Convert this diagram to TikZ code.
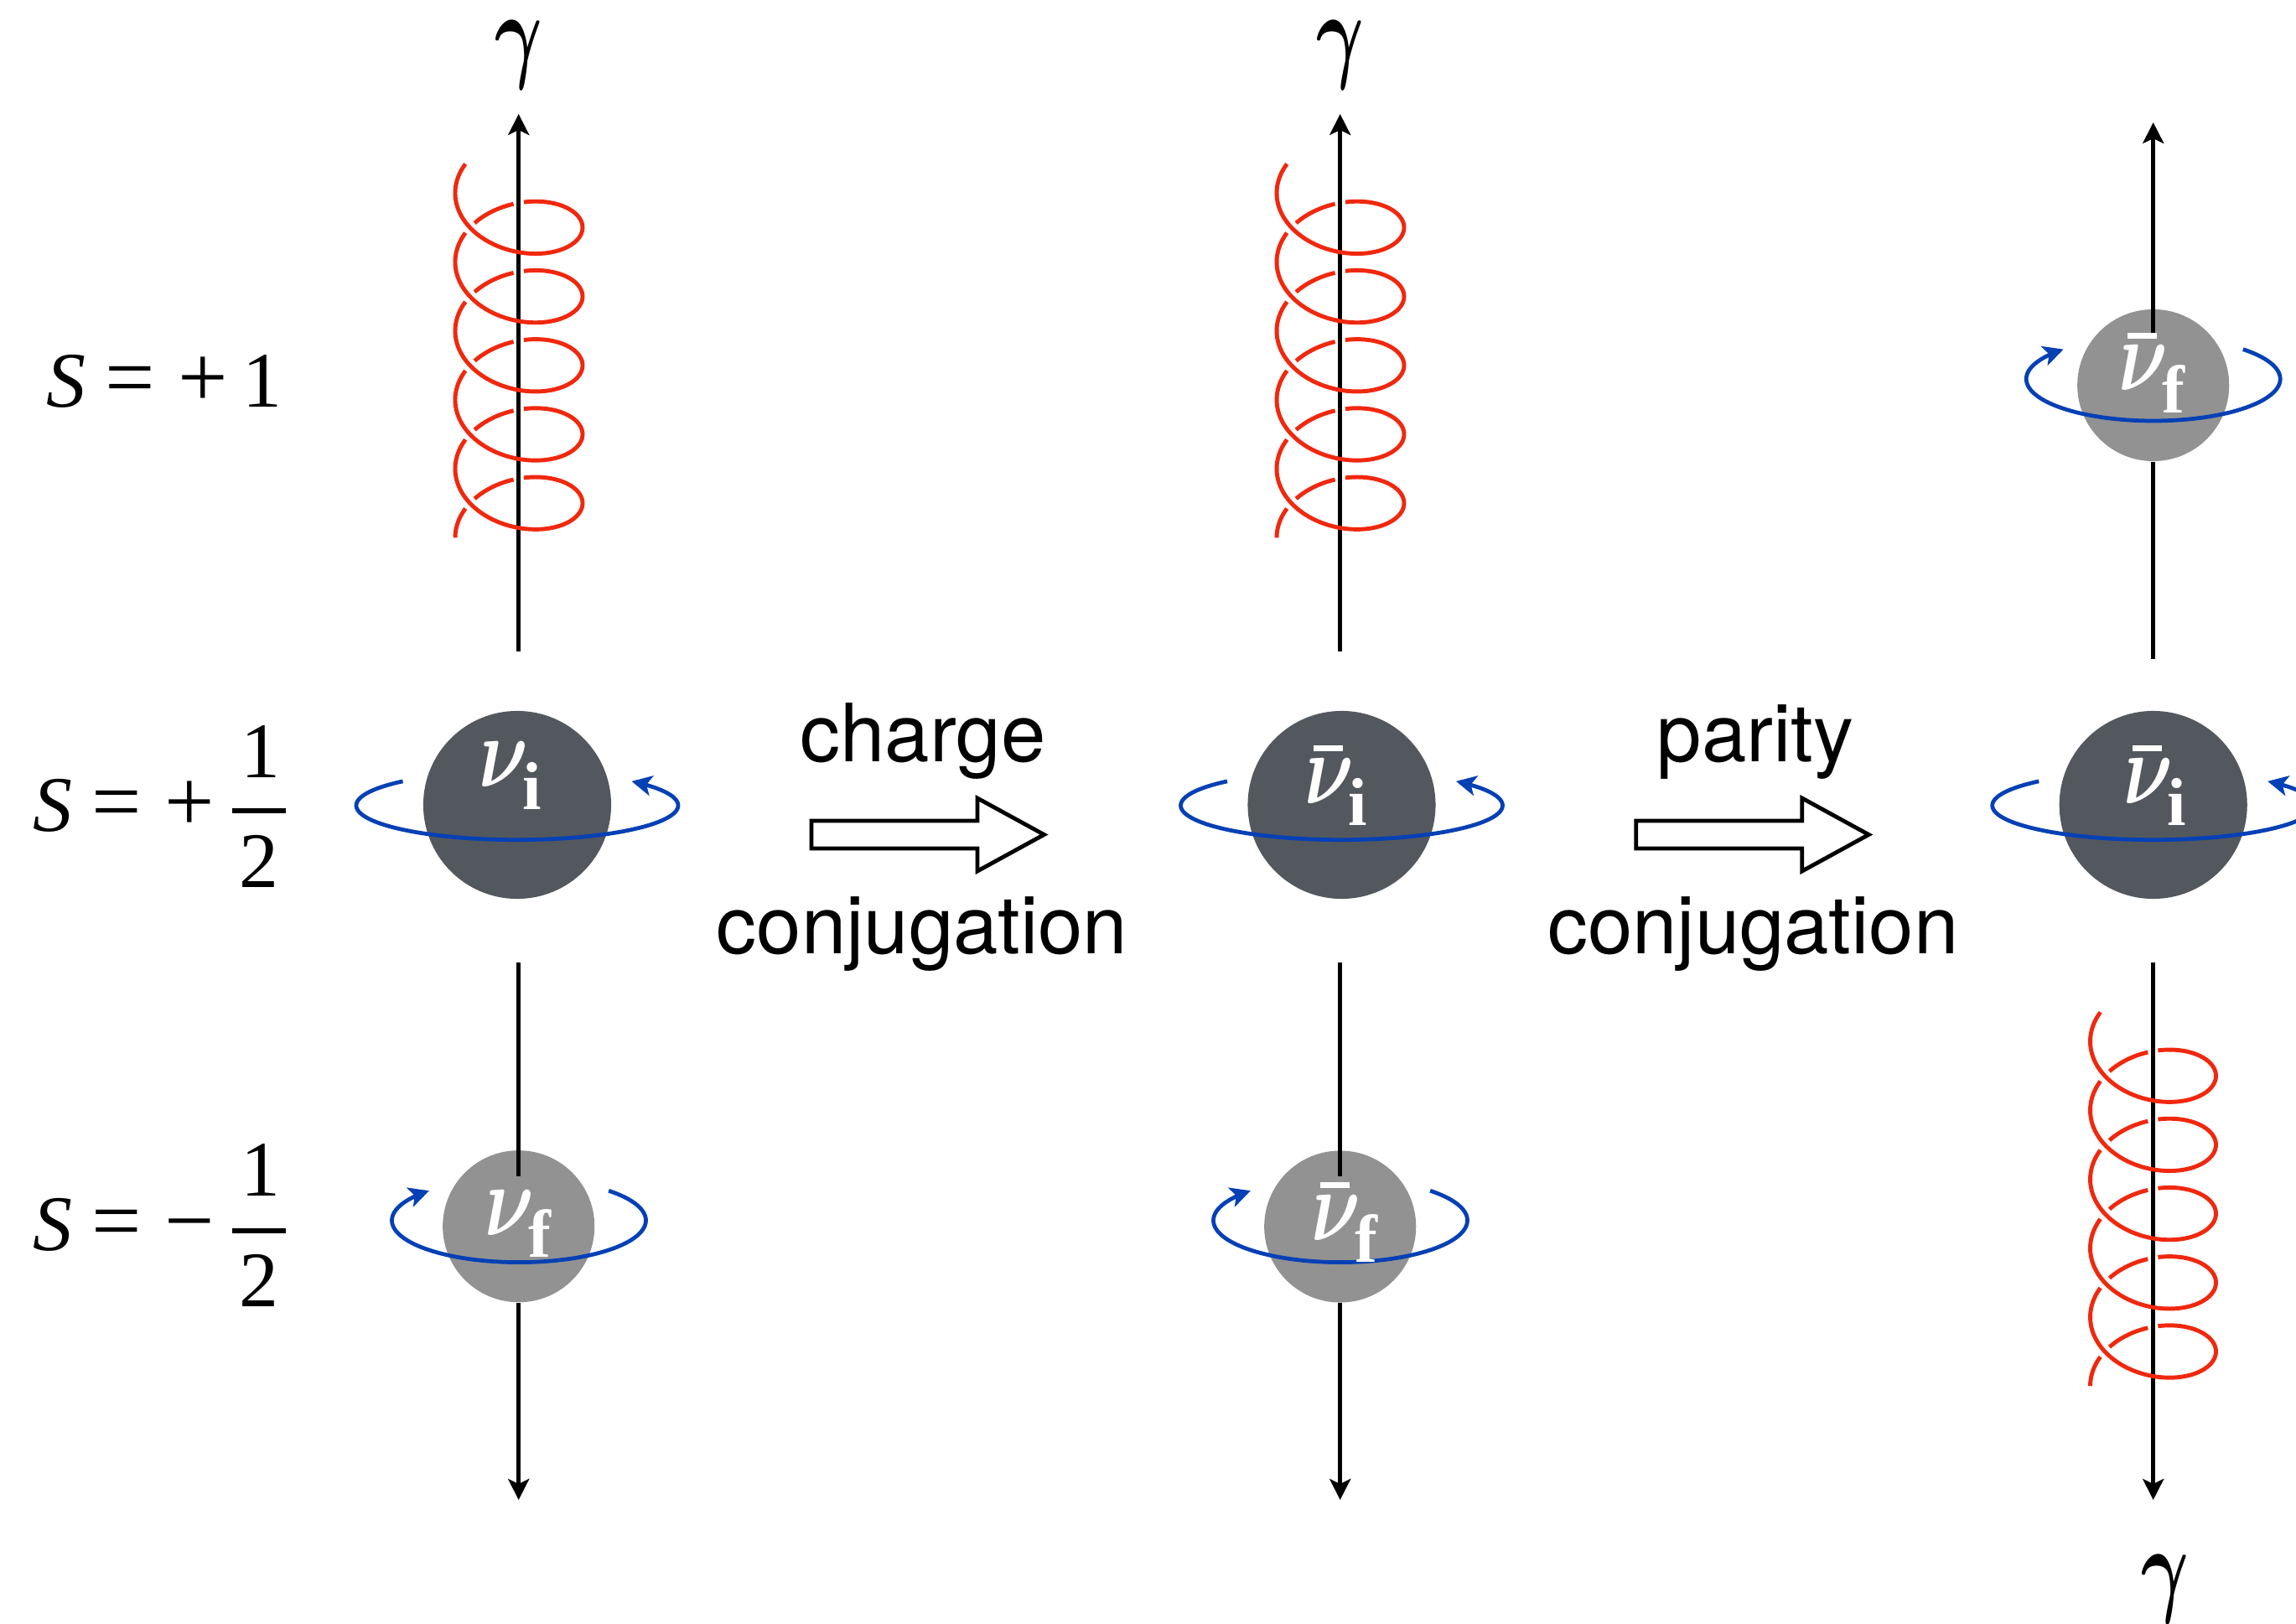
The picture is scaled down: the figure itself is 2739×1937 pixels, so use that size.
\documentclass[tikz,border=0pt]{standalone}
\usepackage{fontspec}
\usepackage{tikz}
\usetikzlibrary{arrows.meta}
\setsansfont{TeX Gyre Heros}
\newfontfamily\timesface{Liberation Serif}
\definecolor{helixColor}{HTML}{F0280E}
\definecolor{spinColor}{HTML}{0540B5}
\definecolor{initColor}{HTML}{53585E}
\definecolor{finalColor}{HTML}{929292}

\tikzset{
    axisline/.style={line width=1.42pt, -{Stealth[length=0.25cm, width=0.25cm, inset=0.06cm]}},
    axisplain/.style={line width=1.42pt},
    helixline/.style={line width=1.4pt, helixColor},
    spinline/.style={line width=1.35pt, spinColor},
    spintip/.style={-{Stealth[length=0.24cm, width=0.24cm, inset=0.06cm]}},
    initball/.style={circle, fill=initColor, inner sep=0pt, minimum size=2.24cm},
    finalball/.style={circle, fill=finalColor, inner sep=0pt, minimum size=1.81cm},
    nulabel/.style={anchor=base west, inner sep=0pt, text=white},
    symlabel/.style={anchor=base west, inner sep=0pt, font=\timesface\fontsize{26.7}{30}\selectfont},
    opsign/.style={anchor=base west, inner sep=0pt, font=\timesface\fontsize{30}{32}\selectfont},
    photon/.style={anchor=base west, inner sep=0pt, font=\fontsize{20}{22}\selectfont},
    opname/.style={anchor=base, inner sep=0pt, font=\sffamily\fontsize{27.3}{30}\selectfont},
    oparrow/.style={line width=1.37pt, fill=white, miter limit=10},
}

% nu with a bold index, the bar version adds a rule above the letter
\newcommand{\nuname}[1]{\makebox[0.52cm][l]{\fontsize{20}{22}\selectfont\scalebox{1.25}[1.65]{\boldmath\(\nu\)}}\raisebox{-0.26cm}{\timesface\bfseries\fontsize{23}{25}\selectfont #1}}
\newcommand{\nubarname}[1]{\rlap{\kern0.10cm\raisebox{0.62cm}{\rule{0.35cm}{0.067cm}}}\nuname{#1}}
\newcommand{\gammaname}{\scalebox{1.19}[1.75]{\boldmath\(\gamma\)}}

% one coil around x=#1, #2 is the height of the first turn
\newcommand{\drawcoil}[3]{
    \foreach \k in {0,...,4} {
        \draw[helixline, domain=147+360*\k:445.5+360*\k, samples=70, smooth]
            plot ({#1+#3*cos(\x)}, {#2+0.22833*\x-50*sin(\x)});
        \draw[helixline, domain=454.8+360*\k:494+360*\k, samples=12, smooth]
            plot ({#1+#3*cos(\x)}, {#2+0.22833*\x-50*sin(\x)});
    }
    \draw[helixline, domain=1947:1980, samples=10, smooth]
        plot ({#1+#3*cos(\x)}, {#2+0.22833*\x-50*sin(\x)});
}
% spin rings, front part runs along the lower side
\newcommand{\ringup}[2]{
    \draw[spinline, spintip, domain=135.3:404.7, samples=90, smooth]
        plot ({#1+192*cos(\x)}, {#2-41*sin(\x)});
}
\newcommand{\ringdown}[2]{
    \draw[spinline, spintip, domain=45:-225, samples=90, smooth]
        plot ({#1+151.5*cos(\x)}, {#2-50*sin(\x)});
}
\newcommand{\drawop}[1]{
    \draw[oparrow] (968+#1,979) -- (1166+#1,979) -- (1166+#1,952) -- (1245.5+#1,995.5)
        -- (1166+#1,1039) -- (1166+#1,1012) -- (968+#1,1012) -- cycle;
}

\begin{document}
\begin{tikzpicture}[x=0.01cm, y=-0.01cm]
    \useasboundingbox (0,0) rectangle (2739,1937);

    % first column
    \coordinate (axAtop) at (618.7,136);
    \coordinate (axAmid) at (618.7,777);
    \coordinate (axAlow) at (618.7,1148);
    \coordinate (axAfin) at (618.7,1403);
    \coordinate (axAend) at (618.7,1789);
    \draw[axisline] (axAmid) -- (axAtop);
    \drawcoil{619}{189.2}{76}
    \node[initball] (nuiA) at (617,960) {};
    \node[finalball] (nufA) at (618.7,1462.7) {};
    \draw[axisplain] (axAlow) -- (axAfin);
    \draw[axisline] (nufA.south) -- (axAend);
    \ringup{617}{960.7}
    \ringdown{619}{1455.6}
    \node[nulabel] (nameiA) at (571,939) {\nuname{i}};
    \node[nulabel] (namefA) at (578,1473) {\nuname{f}};
    \node[photon] (gamA) at (590,82) {\gammaname};

    % second column
    \coordinate (axBtop) at (1598.7,136);
    \coordinate (axBmid) at (1598.7,777);
    \coordinate (axBlow) at (1598.7,1148);
    \coordinate (axBfin) at (1598.7,1403);
    \coordinate (axBend) at (1598.7,1789);
    \draw[axisline] (axBmid) -- (axBtop);
    \drawcoil{1599}{189.2}{76}
    \node[initball] (nuiB) at (1600.5,960) {};
    \node[finalball] (nufB) at (1598.7,1463) {};
    \draw[axisplain] (axBlow) -- (axBfin);
    \draw[axisline] (nufB.south) -- (axBend);
    \ringup{1600.5}{960.7}
    \ringdown{1599}{1455.6}
    \node[nulabel] (nameiB) at (1556,958) {\nubarname{i}};
    \node[nulabel] (namefB) at (1564,1479) {\nubarname{f}};
    \node[photon] (gamB) at (1570,82) {\gammaname};

    % third column, the coil sits on the lower half
    \coordinate (axCtop) at (2568.7,146);
    \coordinate (axCfin) at (2568.7,397);
    \coordinate (axCmid) at (2568.7,786);
    \coordinate (axClow) at (2568.7,1148);
    \coordinate (axCend) at (2568.7,1789);
    \draw[axisline] (axCfin) -- (axCtop);
    \node[finalball] (nufC) at (2568.7,459.5) {};
    \draw[axisplain] (nufC.south) -- (axCmid);
    \draw[axisplain] (nufC.north) -- (axCfin);
    \node[initball] (nuiC) at (2568.7,960) {};
    \draw[axisline] (axClow) -- (axCend);
    \drawcoil{2568.5}{1201}{75}
    \ringup{2568.7}{960.7}
    \ringdown{2568.7}{452}
    \node[nulabel] (nameiC) at (2533,958) {\nubarname{i}};
    \node[nulabel] (namefC) at (2527,466) {\nubarname{f}};
    \node[photon] (gamC) at (2554,1911) {\gammaname};

    % transformations between the columns
    \drawop{0}
    \drawop{983.8}
    \node[opname] (chg) at (1101,908.3) {charge};
    \node[opname] (cnjA) at (1100,1137.3) {conjugation};
    \node[opname] (par) at (2094.3,908.3) {parity};
    \node[opname] (cnjB) at (2091.3,1137.3) {conjugation};

    % spin values
    \node[symlabel] (spinone) at (55,486) {\textit{S}};
    \node[opsign] (eqone) at (125,486) {=};
    \node[opsign] (plusone) at (212,486) {+};
    \node[symlabel] (valone) at (289,486) {1};

    \node[symlabel] (spinup) at (39,991.6) {\textit{S}};
    \node[opsign] (equp) at (109,991.6) {=};
    \node[opsign] (plusup) at (196,991.6) {+};
    \node[symlabel] (upnum) at (287,927) {1};
    \node[symlabel] (updenom) at (285,1058.5) {2};
    \draw[line width=1.7pt] (277,967) -- (341,967);

    \node[symlabel] (spindn) at (39,1491.7) {\textit{S}};
    \node[opsign] (eqdn) at (109,1491.7) {=};
    \node[opsign] (minusdn) at (196,1491.7) {−};
    \node[symlabel] (dnnum) at (287,1426.7) {1};
    \node[symlabel] (dndenom) at (285,1558) {2};
    \draw[line width=1.7pt] (277,1467.7) -- (341,1467.7);
\end{tikzpicture}
\end{document}
